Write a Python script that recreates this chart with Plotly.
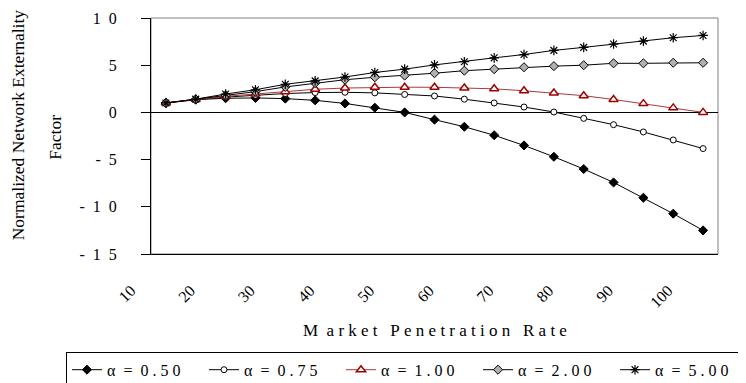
import plotly.graph_objects as go

# ---- data ----
penetration = [10, 15, 20, 25, 30, 35, 40, 45, 50, 55, 60, 65, 70, 75, 80, 85, 90, 95, 100]
alpha_050 = [1.0, 1.35, 1.5, 1.53, 1.46, 1.28, 0.95, 0.5, 0.0, -0.77, -1.52, -2.42, -3.5, -4.7, -6.0, -7.42, -9.04, -10.73, -12.5]
alpha_075 = [1.0, 1.36, 1.62, 1.82, 2.0, 2.1, 2.13, 2.07, 1.9, 1.74, 1.4, 1.0, 0.57, 0.04, -0.63, -1.3, -2.07, -2.92, -3.83]
alpha_100 = [1.0, 1.38, 1.7, 1.95, 2.2, 2.45, 2.58, 2.66, 2.67, 2.66, 2.58, 2.5, 2.29, 2.05, 1.77, 1.37, 0.93, 0.48, 0.0]
alpha_200 = [1.0, 1.38, 1.8, 2.2, 2.7, 3.1, 3.46, 3.72, 3.9, 4.15, 4.42, 4.58, 4.78, 4.9, 5.0, 5.2, 5.2, 5.26, 5.26]
alpha_500 = [1.0, 1.4, 1.95, 2.4, 2.98, 3.34, 3.75, 4.23, 4.58, 5.03, 5.37, 5.78, 6.13, 6.57, 6.89, 7.24, 7.55, 7.91, 8.15]

series_names = ["α  =  0 . 5 0", "α  =  0 . 7 5", "α  =  1 . 0 0", "α  =  2 . 0 0", "α  =  5 . 0 0"]
x_tick_vals = [10, 20, 30, 40, 50, 60, 70, 80, 90, 100]
x_tick_text = ["10", "20", "30", "40", "50", "60", "70", "80", "90", "100"]
y_tick_vals = [-15, -10, -5, 0, 5, 10]
y_tick_text = ["-  1  5", "-  1  0", "-  5", "0", "5", "1  0"]
x_title = "M  a r k e t   P e n e t r a t i o n   R a t e"
y_title_1 = "Normalized Network Externality"
y_title_2 = "Factor"

NB = "\u00a0"
def sp(s):
    return s.replace(" ", NB)

FONT = "Liberation Serif, Times New Roman, serif"

styles = [
    dict(line=dict(color="black", width=1),
         marker=dict(symbol="diamond", size=7, color="black", line=dict(color="black", width=1))),
    dict(line=dict(color="black", width=1),
         marker=dict(symbol="circle", size=6, color="white", line=dict(color="black", width=1))),
    dict(line=dict(color="#A83A3A", width=1),
         marker=dict(symbol="triangle-up", size=8, color="white", line=dict(color="#A00000", width=1.5))),
    dict(line=dict(color="black", width=1),
         marker=dict(symbol="diamond", size=7, color="#B0B0B0", line=dict(color="black", width=1))),
    dict(line=dict(color="black", width=1),
         marker=dict(symbol="asterisk-open", size=8, color="black", line=dict(color="black", width=1.2))),
]

fig = go.Figure()
for name, ys, st in zip(series_names, [alpha_050, alpha_075, alpha_100, alpha_200, alpha_500], styles):
    fig.add_trace(go.Scatter(x=penetration, y=ys, mode="lines+markers", name=sp(name),
                             line=st["line"], marker=st["marker"]))

# page is rendered with an 8px body margin: compensate so page pixels match
OFF = 8
PAGE_W, PAGE_H = 746, 383
PLOT_L, PLOT_R, PLOT_T, PLOT_B = 151, 718, 17.5, 254   # page pixel edges of plot area
W, H = PAGE_W - OFF, PAGE_H - OFF
L = PLOT_L - OFF
R = PAGE_W - PLOT_R
T = PLOT_T - OFF
B = PAGE_H - PLOT_B
plot_w = PLOT_R - PLOT_L
plot_h = PLOT_B - PLOT_T

def px_x(px):
    return (px - PLOT_L) / plot_w

def px_y(py):
    return (PLOT_B - py) / plot_h

fig.update_layout(
    width=W, height=H,
    margin=dict(l=L, r=R, t=T, b=B, autoexpand=False),
    paper_bgcolor="white", plot_bgcolor="white",
    font=dict(family=FONT, size=16, color="black"),
    showlegend=True,
    legend=dict(orientation="h", x=px_x(66), y=px_y(352), xanchor="left", yanchor="top",
                bordercolor="black", borderwidth=1, bgcolor="white",
                font=dict(family=FONT, size=16, color="black"),
                entrywidth=92, entrywidthmode="pixels", tracegroupgap=0),
    xaxis=dict(range=[7.5, 102.5], showgrid=False, zeroline=False,
               showline=True, linecolor="black", linewidth=1,
               tickmode="array", tickvals=x_tick_vals, ticktext=x_tick_text,
               ticks="", tickangle=-45, tickfont=dict(family=FONT, size=16),
               ticklabelshift=-35, ticklabelstandoff=20, automargin=False),
    xaxis2=dict(range=[7.5, 102.5], overlaying="x", anchor="free", position=0.6,
                showgrid=False, zeroline=False, showline=False,
                tickmode="array", tickvals=[12.5 + 5 * i for i in range(18)],
                ticks="outside", ticklen=6, tickcolor="black", showticklabels=False),
    yaxis=dict(range=[-15, 10], showgrid=False,
               zeroline=True, zerolinecolor="black", zerolinewidth=1,
               showline=True, linecolor="black", linewidth=1,
               tickmode="array", tickvals=y_tick_vals, ticktext=[sp(t) for t in y_tick_text],
               ticks="outside", ticklen=9, tickcolor="black",
               tickfont=dict(family=FONT, size=16), ticklabelstandoff=21, automargin=False),
    shapes=[dict(type="rect", xref="x domain", yref="y domain", x0=0, x1=1, y0=0, y1=1,
                 line=dict(color="#808080", width=1), layer="below")],
    annotations=[
        dict(text=sp(x_title), xref="paper", yref="paper", x=0.5, y=px_y(331),
             xanchor="center", yanchor="middle", showarrow=False,
             font=dict(family=FONT, size=17)),
        dict(text=y_title_1, xref="paper", yref="paper", x=px_x(18), y=px_y(125),
             xanchor="center", yanchor="middle", showarrow=False, textangle=-90,
             font=dict(family=FONT, size=17.5)),
        dict(text=y_title_2, xref="paper", yref="paper", x=px_x(55.5), y=px_y(137),
             xanchor="center", yanchor="middle", showarrow=False, textangle=-90,
             font=dict(family=FONT, size=17.5)),
    ],
)

fig.write_html("out.html")
